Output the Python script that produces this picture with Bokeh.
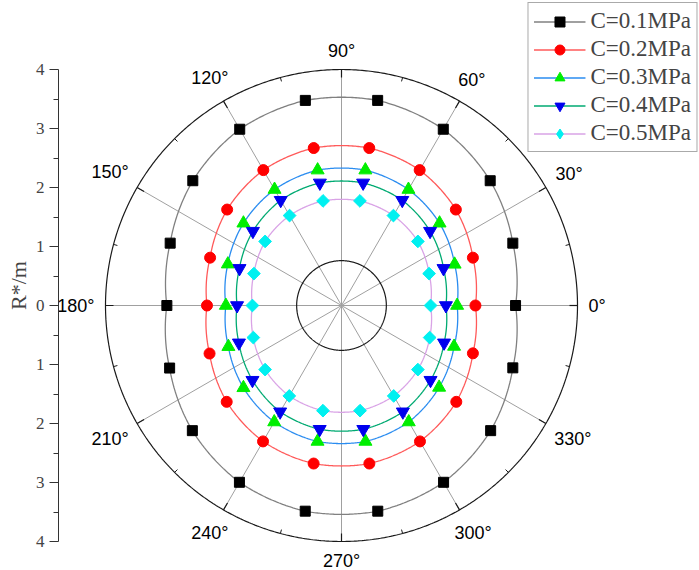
import numpy as np
from bokeh.plotting import figure
from bokeh.models import Range1d, LinearAxis, FixedTicker, Legend, LegendItem
from bokeh.core.properties import value
from bokeh.embed import file_html
from bokeh.resources import INLINE

# ---------------- data ----------------
angles_deg = [0, 20, 40, 60, 80, 100, 120, 140, 160, 180, 200, 220, 240, 260, 280, 300, 320, 340]
r_c01 = [2.95, 3.09, 3.29, 3.45, 3.53, 3.53, 3.45, 3.29, 3.09, 2.96, 3.10, 3.30, 3.46, 3.54, 3.54, 3.46, 3.30, 3.09]
r_c02 = [2.27, 2.37, 2.53, 2.65, 2.71, 2.71, 2.65, 2.53, 2.37, 2.28, 2.38, 2.54, 2.66, 2.72, 2.72, 2.66, 2.54, 2.37]
r_c03 = [1.96, 2.04, 2.17, 2.27, 2.33, 2.33, 2.27, 2.17, 2.05, 1.96, 2.04, 2.17, 2.28, 2.34, 2.34, 2.28, 2.16, 2.03]
r_c04 = [1.77, 1.84, 1.96, 2.06, 2.11, 2.11, 2.06, 1.96, 1.84, 1.77, 1.85, 1.97, 2.08, 2.13, 2.13, 2.08, 1.97, 1.85]
r_c05 = [1.51, 1.58, 1.69, 1.76, 1.80, 1.80, 1.76, 1.69, 1.58, 1.51, 1.59, 1.69, 1.77, 1.81, 1.81, 1.77, 1.69, 1.59]
series_names = ["C=0.1MPa", "C=0.2MPa", "C=0.3MPa", "C=0.4MPa", "C=0.5MPa"]

angle_ticks = [0, 30, 60, 90, 120, 150, 180, 210, 240, 270, 300, 330]
angle_labels = ["0°", "30°", "60°", "90°", "120°", "150°", "180°", "210°", "240°", "270°", "300°", "330°"]
r_ticks = [-4, -3, -2, -1, 0, 1, 2, 3, 4]
r_tick_labels = ["4", "3", "2", "1", "0", "1", "2", "3", "4"]
r_max = 4
inner_radius = 0.76

# ---------------- styles ----------------
line_colors = ["#808080", "#ff5a5a", "#2a8cf0", "#00aa72", "#d9a3e6"]
marker_colors = ["#000000", "#ff0000", "#00ee00", "#0000ee", "#00f0f0"]
markers = ["square", "circle", "triangle", "inverted_triangle", "square"]
legend_markers = ["square", "circle", "triangle", "inverted_triangle", "diamond"]
marker_sizes = [10, 11, 13, 13, 9]
marker_angles = [0, 0, 0, 0, np.pi / 4]

W, H = 699, 570
PX = 59.0                     # pixels per unit
LEFT = 58                     # left border (axis)
FW, FH = W - LEFT, H
cx = 341 - LEFT               # centre inside frame (px from left)
cy = 305                      # centre inside frame (px from top)

p = figure(frame_width=FW, frame_height=FH, output_backend="svg", toolbar_location=None,
           x_range=Range1d(-cx / PX, (FW - cx) / PX),
           y_range=Range1d(-(FH - cy) / PX, cy / PX),
           x_axis_type=None, y_axis_type=None,
           min_border_left=LEFT, min_border_right=0, min_border_top=0, min_border_bottom=0)
p.outline_line_color = None
p.grid.visible = False
p.background_fill_color = "white"
p.border_fill_color = "white"

# spokes
sp = np.radians(angle_ticks)
p.segment(x0=np.zeros(len(sp)), y0=np.zeros(len(sp)), x1=r_max * np.cos(sp), y1=r_max * np.sin(sp),
          line_color="#a0a0a0", line_width=1)

# outer & inner circles
circ = np.linspace(0, 2 * np.pi, 721)
p.line(r_max * np.cos(circ), r_max * np.sin(circ), line_color="#1a1a1a", line_width=1.2)
p.line(inner_radius * np.cos(circ), inner_radius * np.sin(circ), line_color="#1a1a1a", line_width=1.2)

# angular ticks on outer circle (inward)
maj = np.radians(angle_ticks)
mino = np.radians([a + 15 for a in angle_ticks])
p.segment(x0=r_max * np.cos(maj), y0=r_max * np.sin(maj),
          x1=(r_max - 8 / PX) * np.cos(maj), y1=(r_max - 8 / PX) * np.sin(maj),
          line_color="#1a1a1a", line_width=1.2)
p.segment(x0=r_max * np.cos(mino), y0=r_max * np.sin(mino),
          x1=(r_max - 4 / PX) * np.cos(mino), y1=(r_max - 4 / PX) * np.sin(mino),
          line_color="#1a1a1a", line_width=1)

# angle labels
fs = 18
lx, ly = [], []
for a, lab in zip(angle_ticks, angle_labels):
    t = np.radians(a)
    w = (len(lab) - 1) * 0.556 * fs + 0.4 * fs
    h = 16
    rpx = r_max * PX + 11 + 0.5 * (abs(np.cos(t)) * w + abs(np.sin(t)) * h)
    lx.append(rpx / PX * np.cos(t))
    ly.append(rpx / PX * np.sin(t))
p.text(x=lx, y=ly, text=angle_labels, text_font=value("Liberation Sans"), text_font_size=f"{fs}px",
       text_align="center", text_baseline="middle", text_color="black")

# series
all_r = [r_c01, r_c02, r_c03, r_c04, r_c05]
items = []
th = np.radians(angles_deg)
for i, (name, rr) in enumerate(zip(series_names, all_r)):
    # polar line: r varies linearly with angle between the data points
    a_closed = list(angles_deg) + [angles_deg[0] + 360]
    r_closed = list(rr) + [rr[0]]
    ta = np.linspace(0, 360, 721)
    rt = np.interp(ta, a_closed, r_closed)
    lr = p.line(rt * np.cos(np.radians(ta)), rt * np.sin(np.radians(ta)),
                line_color=line_colors[i], line_width=1.3)
    rr_a = np.array(rr)
    px_, py_ = rr_a * np.cos(th), rr_a * np.sin(th)
    leg_r = None
    if legend_markers[i] != markers[i]:
        # diamond drawn underneath the rotated squares; it supplies the legend swatch
        leg_r = p.scatter(px_, py_, marker=legend_markers[i], size=marker_sizes[i],
                          fill_color=marker_colors[i], line_color=marker_colors[i])
    sr = p.scatter(px_, py_, marker=markers[i], size=marker_sizes[i],
                   angle=marker_angles[i], fill_color=marker_colors[i], line_color=marker_colors[i])
    items.append(LegendItem(label=name, renderers=[lr, leg_r if leg_r is not None else sr]))

legend = Legend(items=items, location="top_right", margin=2,
                border_line_color="#555555", border_line_width=1.5,
                background_fill_color="white", background_fill_alpha=1,
                label_text_font="Liberation Serif", label_text_font_size="23px",
                glyph_width=52, glyph_height=25, label_height=20,
                label_standoff=5, padding=5, spacing=2)
p.add_layout(legend)

# left radial axis
minor = [(a + b) / 2 for a, b in zip(r_ticks[:-1], r_ticks[1:])]
yax = LinearAxis(ticker=FixedTicker(ticks=r_ticks, minor_ticks=minor),
                 major_label_overrides={t: s for t, s in zip(r_ticks, r_tick_labels)},
                 bounds=(-r_max, r_max), axis_label="R*/m",
                 axis_label_text_font="Liberation Serif", axis_label_text_font_size="22px",
                 axis_label_text_font_style="normal", axis_label_standoff=2,
                 major_label_text_font="Liberation Serif", major_label_text_font_size="17px",
                 major_label_standoff=5,
                 axis_line_color="#333333", major_tick_line_color="#333333", minor_tick_line_color="#333333",
                 major_tick_in=0, major_tick_out=9, minor_tick_in=0, minor_tick_out=5)
p.add_layout(yax, "left")

open("out.html", "w").write(file_html(p, INLINE))
